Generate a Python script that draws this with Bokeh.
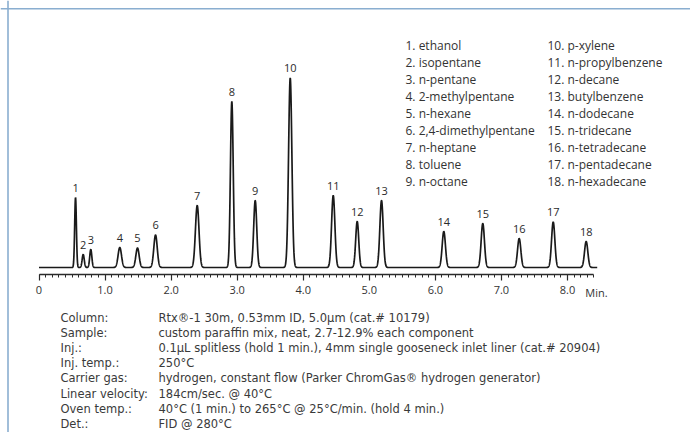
import numpy as np
from bokeh.plotting import figure
from bokeh.models import Range1d, FixedTicker, Span, ColumnDataSource
from bokeh.core.properties import value
from bokeh.embed import file_html
from bokeh.resources import INLINE

# ---------------- data ----------------
peak_labels = [str(i) for i in range(1, 19)]
retention_min = [0.553, 0.669, 0.784, 1.223, 1.491, 1.764, 2.395, 2.919, 3.273,
                 3.803, 4.454, 4.817, 5.185, 6.128, 6.718, 7.269, 7.784, 8.283]
peak_height = [70, 13, 18, 20, 19.5, 32.5, 62, 166, 67,
               189.5, 72, 46, 67, 36, 44, 29, 45.5, 26]
peak_sigma = [0.013, 0.016, 0.016, 0.026, 0.025, 0.026, 0.027, 0.021, 0.023,
              0.025, 0.025, 0.023, 0.025, 0.025, 0.025, 0.025, 0.025, 0.025]
compounds = ["ethanol", "isopentane", "n-pentane", "2-methylpentane", "n-hexane",
             "2,4-dimethylpentane", "n-heptane", "toluene", "n-octane",
             "p-xylene", "n-propylbenzene", "n-decane", "butylbenzene",
             "n-dodecane", "n-tridecane", "n-tetradecane", "n-pentadecane",
             "n-hexadecane"]
x_ticks = [0, 1, 2, 3, 4, 5, 6, 7, 8]
x_tick_labels = ["0", "1.0", "2.0", "3.0", "4.0", "5.0", "6.0", "7.0", "8.0"]
x_minor_ticks = [round(i * 0.1, 1) for i in range(0, 85)]
axis_end_min = 8.4
trace_end_min = 8.45
x_unit_label = "Min."
cond_keys = ["Column:", "Sample:", "Inj.:", "Inj. temp.:", "Carrier gas:",
             "Linear velocity:", "Oven temp.:", "Det.:"]
cond_values = ["Rtx\u00ae-1 30m, 0.53mm ID, 5.0\u00b5m (cat.# 10179)",
               "custom paraffin mix, neat, 2.7-12.9% each component",
               "0.1\u00b5L splitless (hold 1 min.), 4mm single gooseneck inlet liner (cat.# 20904)",
               "250\u00b0C",
               "hydrogen, constant flow (Parker ChromGas\u00ae hydrogen generator)",
               "184cm/sec. @ 40\u00b0C",
               "40\u00b0C (1 min.) to 265\u00b0C @ 25\u00b0C/min. (hold 4 min.)",
               "FID @ 280\u00b0C"]

# ---------------- geometry ----------------
W, H = 690, 432
X0_PX = 38.5          # canvas px of t = 0
PX_PER_MIN = 66.06
BASE_PX = 267         # canvas px (from top) of the signal baseline


def px_x(cx):
    return (cx - X0_PX) / PX_PER_MIN


def px_y(cy):
    return BASE_PX - cy


x_range = Range1d(-X0_PX / PX_PER_MIN, (W - X0_PX) / PX_PER_MIN)
y_range = Range1d(-(H - BASE_PX), BASE_PX)

p = figure(width=W, height=H, x_range=x_range, y_range=y_range,
           output_backend="svg", toolbar_location=None,
           y_axis_location=None, min_border=0)
p.outline_line_color = None
p.grid.visible = False
p.background_fill_color = "white"
p.border_fill_color = "white"

# ---------------- trace ----------------
t = np.linspace(0, trace_end_min, 5000)
sig = np.zeros_like(t)
for rt, h, s in zip(retention_min, peak_height, peak_sigma):
    sig += h * np.exp(-0.5 * ((t - rt) / s) ** 2)
p.line(t, sig, line_color="#1a1a1a", line_width=1.7)

# peak numbers
lab_src = ColumnDataSource(dict(x=retention_min,
                                y=[h + 10 for h in peak_height],
                                text=peak_labels))
p.text(x="x", y="y", text="text", source=lab_src, text_align="center",
       text_baseline="middle", text_font=value("Open Sans"),
       text_font_size="11px", text_color="#2a2a2a")

# ---------------- axis ----------------
ax = p.xaxis[0]
ax.fixed_location = px_y(274)
ax.bounds = (0, axis_end_min)
ax.ticker = FixedTicker(ticks=x_ticks, minor_ticks=x_minor_ticks)
ax.major_label_overrides = {k: v for k, v in zip(x_ticks, x_tick_labels)}
ax.axis_line_color = "#2a2a2a"
ax.axis_line_width = 1.3
ax.major_tick_line_color = "#2a2a2a"
ax.minor_tick_line_color = "#2a2a2a"
ax.major_tick_line_width = 1.2
ax.minor_tick_line_width = 1.0
ax.major_tick_in = 0
ax.major_tick_out = 6
ax.minor_tick_in = 0
ax.minor_tick_out = 3
ax.major_label_standoff = 5
ax.major_label_text_font = "Open Sans"
ax.major_label_text_font_size = "11px"
ax.major_label_text_color = "#333333"

p.text(x=[px_x(596)], y=[px_y(292)], text=[x_unit_label],
       text_align="center", text_baseline="middle",
       text_font=value("Open Sans"), text_font_size="11px",
       text_color="#333333")

# ---------------- compound list ----------------
n_half = 9
leg_x = [px_x(405)] * n_half + [px_x(547)] * (len(compounds) - n_half)
leg_y = [px_y(44.5 + 17 * (i % n_half)) for i in range(len(compounds))]
leg_txt = [f"{i + 1}. {c}" for i, c in enumerate(compounds)]
p.text(x=leg_x, y=leg_y, text=leg_txt, text_align="left",
       text_baseline="middle", text_font=value("Open Sans"),
       text_font_size="12px", text_color="#333333")

# ---------------- conditions ----------------
rows_y = [px_y(317 + 15.2 * i) for i in range(len(cond_keys))]
p.text(x=[px_x(60)] * len(cond_keys), y=rows_y, text=cond_keys,
       text_align="left", text_baseline="middle",
       text_font=value("DejaVu Sans"), text_font_size="11.5px",
       text_color="#3a3a3a")
p.text(x=[px_x(158)] * len(cond_values), y=rows_y, text=cond_values,
       text_align="left", text_baseline="middle",
       text_font=value("DejaVu Sans"), text_font_size="11.5px",
       text_color="#3a3a3a")

# ---------------- frame lines (left and top) ----------------
p.add_layout(Span(location=x_range.start + 7.5 / PX_PER_MIN, dimension="height",
                  line_color="#8aaed0", line_width=1.6))
p.add_layout(Span(location=y_range.end - 8.2, dimension="width",
                  line_color="#8aaed0", line_width=1.6))

open("out.html", "w").write(file_html(p, INLINE))
